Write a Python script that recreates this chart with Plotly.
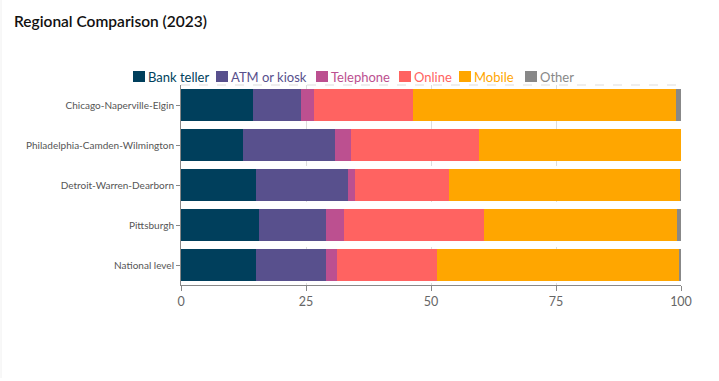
import plotly.graph_objects as go

regions = ["Chicago-Naperville-Elgin", "Philadelphia-Camden-Wilmington",
           "Detroit-Warren-Dearborn", "Pittsburgh", "National level"]
series_names = ["Bank teller", "ATM or kiosk", "Telephone", "Online", "Mobile", "Other"]
bank_teller = [14.4, 12.4, 15.0, 15.6, 15.0]
atm_kiosk = [9.6, 18.4, 18.4, 13.4, 14.0]
telephone = [2.6, 3.2, 1.4, 3.6, 2.2]
online = [19.8, 25.6, 18.8, 28.0, 20.0]
mobile = [52.6, 40.4, 46.2, 38.6, 48.3]
other = [1.0, 0.0, 0.3, 0.8, 0.5]
colors = ["#003f5c", "#58508d", "#bc5090", "#ff6361", "#ffa600", "#888888"]
x_ticks = [0, 25, 50, 75, 100]

values = [bank_teller, atm_kiosk, telephone, online, mobile, other]
font_family = "Lato, Noto Sans, sans-serif"

W, H = 719, 381
L, R, T, B = 181, 38, 85, 96
PW, PH = W - L - R, H - T - B


def px(x):
    return (x - L) / PW


def py(y):
    return (H - B - y) / PH


fig = go.Figure()
for name, vals, col in zip(series_names, values, colors):
    fig.add_trace(go.Bar(
        y=regions, x=vals, orientation="h", name=name,
        marker=dict(color=col, line=dict(width=0)),
    ))

fig.update_layout(
    width=W, height=H,
    barmode="stack", bargap=0.22,
    paper_bgcolor="white", plot_bgcolor="white",
    margin=dict(l=L, r=R, t=T, b=B, autoexpand=False),
    font=dict(family=font_family, color="#555555"),
    title=dict(text="Regional Comparison (2023)", x=14 / W, xref="container", xanchor="left",
               y=1 - 22 / H, yref="container", yanchor="middle",
               font=dict(size=15.5, color="#111111", family=font_family, weight=600)),
    showlegend=False,
)
fig.update_xaxes(range=[0, 100], tickvals=x_ticks, showgrid=True, gridcolor="#dddddd",
                 griddash="dash", gridwidth=1, showline=True, linecolor="#888888",
                 ticks="outside", tickcolor="#888888", ticklen=5, automargin=False,
                 tickfont=dict(size=12.5, color="#666666"), zeroline=False)
fig.update_yaxes(autorange="reversed", showline=True, linecolor="#888888",
                 ticks="outside", tickcolor="#888888", ticklen=4, automargin=False,
                 tickfont=dict(size=10, color="#555555"), showgrid=False)
# top dashed border of plot area
fig.add_shape(type="line", xref="paper", yref="paper", x0=0, x1=1, y0=1, y1=1,
              line=dict(color="#dddddd", width=1, dash="dash"))
# faint card edge on the left
fig.add_shape(type="line", xref="paper", yref="paper", x0=px(1), x1=px(1), y0=py(0), y1=py(378),
              line=dict(color="#f0f0f0", width=1))

# custom legend (squares + coloured labels)
legend_x = [133, 216, 316, 399, 459, 525]
for name, col, lx in zip(series_names, colors, legend_x):
    fig.add_shape(type="rect", xref="paper", yref="paper",
                  x0=px(lx), x1=px(lx + 12), y0=py(82), y1=py(71),
                  fillcolor=col, line=dict(width=0))
    fig.add_annotation(text=name, xref="paper", yref="paper", x=px(lx + 13), y=py(77),
                       xanchor="left", yanchor="middle", showarrow=False,
                       font=dict(size=13, color=col, family=font_family))

fig.write_html("out.html", config={"displayModeBar": False},
               post_script="document.body.style.margin='0';document.body.style.padding='0';")
